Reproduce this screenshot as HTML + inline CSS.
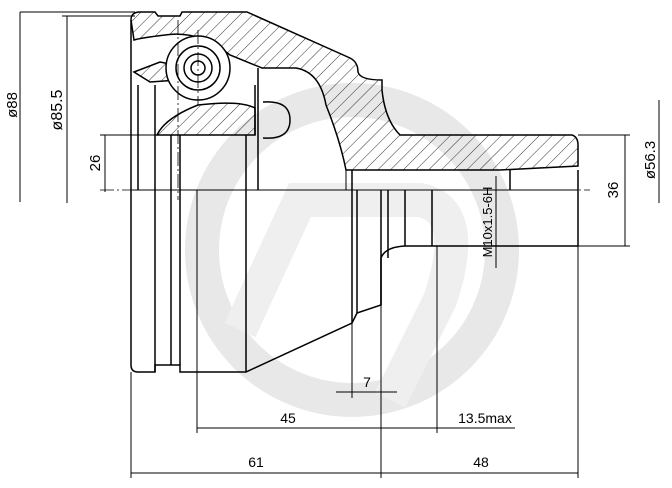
<!DOCTYPE html>
<html><head><style>html,body{margin:0;padding:0;background:#fff}svg{display:block}text{font-family:"Liberation Sans",sans-serif;font-size:14px;fill:#000}</style></head>
<body>
<svg width="672" height="488" viewBox="0 0 672 488" xmlns="http://www.w3.org/2000/svg">
<defs>
<pattern id="h" width="9" height="9" patternUnits="userSpaceOnUse" patternTransform="rotate(45)">
<line x1="0" y1="0" x2="0" y2="9" stroke="#000" stroke-width="0.8"/>
</pattern>
</defs>
<!-- watermark -->
<circle cx="352" cy="250" r="150" fill="none" stroke="#e8e8e8" stroke-width="34"/>
<path d="M240 330 L300 200 L420 200 Q470 210 440 300 L390 400" fill="none" stroke="#efefef" stroke-width="34"/>
<g fill="none" stroke="#000" stroke-width="1.5">
<path d="M131 20 Q131 12 140 12 L155 12 L158 16 L180 16 L182 12 L247 12 L350 58 Q358 62 358 72 Q360 80 382 80 L382 90 Q385 120 400 135 L572 135 Q578 137 578 145 L578 166 L500 170 L346 170 Q340 140 326 105 Q320 72 296 68 L262 68 L230 55 Q200 30 165 35 Q140 38 134 40 Z" fill="url(#h)"/>
<path d="M134 72 L160 62 L180 66 L178 80 L150 82 Z" fill="url(#h)"/>
<path d="M157 135 Q165 118 198 105 Q240 100 255 108 L255 135 Z" fill="url(#h)"/>
<circle cx="198" cy="68" r="32" fill="#fff"/>
<circle cx="198" cy="68" r="22"/><circle cx="198" cy="68" r="14"/><circle cx="198" cy="68" r="7"/>
<path d="M263 102 Q290 100 290 120 Q290 140 263 138"/>
<path d="M131 20 L131 365 Q131 372 138 372 L155 372 L155 365 L180 365 L180 372 L246 372 L352 323 L357 313 L381 305 L381 258 Q385 247 405 246 L578 246 L578 170"/>
<path d="M138 85 L138 190 M155 85 L155 372 M171 135 L171 365 M180 135 L180 365 M246 135 L246 372 M255 85 L255 135 M258 68 L258 190"/>
<path d="M352 170 L352 323 M357 190 L357 313 M381 190 L381 305 M388 190 L388 258 M405 190 L405 246 M432 190 L432 246 M510 170 L510 190"/>
<path d="M346 170 L346 190 M132 190 L578 190" stroke-width="1"/>
</g>
<g stroke="#000" stroke-width="0.8" stroke-dasharray="14 3 2 3" fill="none">
<line x1="100" y1="190" x2="590" y2="190"/>
<line x1="178" y1="20" x2="178" y2="200"/>
<line x1="198" y1="30" x2="198" y2="105"/>
</g>
<g stroke="#000" stroke-width="1" fill="none">
<line x1="20" y1="12" x2="135" y2="12"/><line x1="20" y1="12" x2="20" y2="202"/>
<line x1="62" y1="16" x2="135" y2="16"/><line x1="67" y1="16" x2="67" y2="203"/>
<line x1="100" y1="135" x2="160" y2="135"/><line x1="105" y1="135" x2="105" y2="192"/>
<line x1="578" y1="135" x2="630" y2="135"/><line x1="578" y1="246" x2="630" y2="246"/>
<line x1="625" y1="135" x2="625" y2="246"/>
<line x1="659" y1="100" x2="659" y2="203"/>
<line x1="496" y1="176" x2="496" y2="268"/>
<line x1="131" y1="372" x2="131" y2="478"/><line x1="381" y1="305" x2="381" y2="478"/><line x1="578" y1="246" x2="578" y2="478"/>
<line x1="131" y1="473" x2="578" y2="473"/>
<line x1="197" y1="190" x2="197" y2="433"/><line x1="437" y1="246" x2="437" y2="433"/>
<line x1="197" y1="428" x2="515" y2="428"/>
<line x1="352" y1="323" x2="352" y2="398"/>
<line x1="336" y1="392" x2="397" y2="392"/>
</g>
<g text-anchor="middle">
<text transform="translate(17,105) rotate(-90)" style="font-size:15px">ø88</text>
<text transform="translate(62,110) rotate(-90)" style="font-size:16px">ø85.5</text>
<text transform="translate(100,163) rotate(-90)" style="font-size:15px">26</text>
<text transform="translate(618,190) rotate(-90)" style="font-size:15px">36</text>
<text transform="translate(655,160) rotate(-90)" style="font-size:15px">ø56.3</text>
<text transform="translate(492,222) rotate(-90)" style="font-size:13px">M10x1.5-6H</text>
<text x="256" y="467">61</text>
<text x="481" y="467">48</text>
<text x="288" y="423">45</text>
<text x="485" y="423">13.5max</text>
<text x="367" y="387">7</text>
</g>
</svg>
</body></html>
